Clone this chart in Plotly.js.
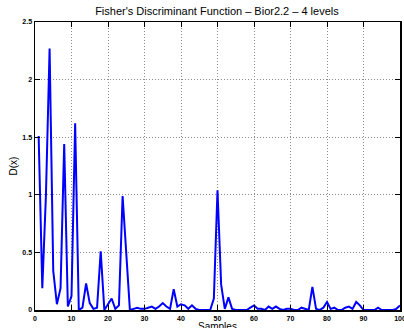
<!DOCTYPE html>
<html><head><meta charset="utf-8">
<script src="https://cdn.plot.ly/plotly-3.0.1.min.js"></script>
<style>html,body{margin:0;padding:0;background:#fff}#c{width:404px;height:328px}</style>
</head><body><div id="c"></div>
<script>
const samples = Array.from({length:100},(_,i)=>i+1);
const dValues = [
 1.51,0.19,1.00,2.27,0.34,0.05,0.19,1.44,0.03,0.12,
 1.62,0.00,0.02,0.23,0.06,0.01,0.02,0.51,0.00,0.05,
 0.10,0.01,0.04,0.99,0.48,0.00,0.01,0.02,0.01,0.01,
 0.02,0.03,0.01,0.03,0.06,0.03,0.01,0.18,0.03,0.05,
 0.04,0.01,0.04,0.01,0.00,0.00,0.00,0.00,0.10,1.04,
 0.22,0.01,0.11,0.01,0.00,0.00,0.00,0.00,0.02,0.04,
 0.01,0.01,0.00,0.03,0.01,0.03,0.01,0.00,0.01,0.01,
 0.00,0.00,0.02,0.01,0.00,0.20,0.01,0.00,0.02,0.07,
 0.01,0.02,0.00,0.00,0.02,0.03,0.01,0.07,0.04,0.00,
 0.00,0.00,0.00,0.02,0.00,0.00,0.00,0.00,0.01,0.04
];
const xTicks = [0,10,20,30,40,50,60,70,80,90,100];
const yTicks = [0,0.5,1,1.5,2,2.5];
const yTickText = ['0','0.5','1','1.5','2','2.5'];
const fontFam = 'Liberation Sans, Arial, sans-serif';

const axisCommon = {
  showline:true, linecolor:'#000', linewidth:1.5, mirror:'ticks',
  ticks:'inside', ticklen:5, tickcolor:'#000', tickwidth:1,
  showgrid:true, gridcolor:'#8c8c8c', griddash:'1px,2px', gridwidth:1,
  zeroline:false, ticklabeloverflow:'allow',
  tickfont:{family:fontFam, size:7, color:'#000', weight:'bold'}
};
const layout = {
  width:404, height:328,
  margin:{l:35, r:4, t:22, b:18},
  paper_bgcolor:'#fff', plot_bgcolor:'#fff',
  showlegend:false,
  title:{text:"Fisher's Discriminant Function – Bior2.2 – 4 levels",
    font:{family:fontFam, size:11, color:'#000'},
    x:0.537, xanchor:'center', y:0.965, yanchor:'middle'},
  xaxis:Object.assign({}, axisCommon, {
    range:[0,100], tickvals:xTicks, ticktext:xTicks.map(String), ticklabelstandoff:1
  }),
  yaxis:Object.assign({}, axisCommon, {
    range:[0,2.5], tickvals:yTicks, ticktext:yTickText
  }),
  annotations:[{
    text:'Samples', xref:'paper', yref:'paper', x:0.5, y:-0.057,
    xanchor:'center', yanchor:'middle', showarrow:false,
    font:{family:fontFam, size:10, color:'#000'}
  },{
    text:'D(x)', xref:'paper', yref:'paper', x:-0.059, y:0.5, textangle:-90,
    xanchor:'center', yanchor:'middle', showarrow:false,
    font:{family:fontFam, size:10, color:'#000'}
  }]
};
Plotly.newPlot('c', [{
  x:samples, y:dValues, type:'scatter', mode:'lines',
  line:{color:'#0000ff', width:2}
}], layout, {staticPlot:true, displayModeBar:false});
</script></body></html>
